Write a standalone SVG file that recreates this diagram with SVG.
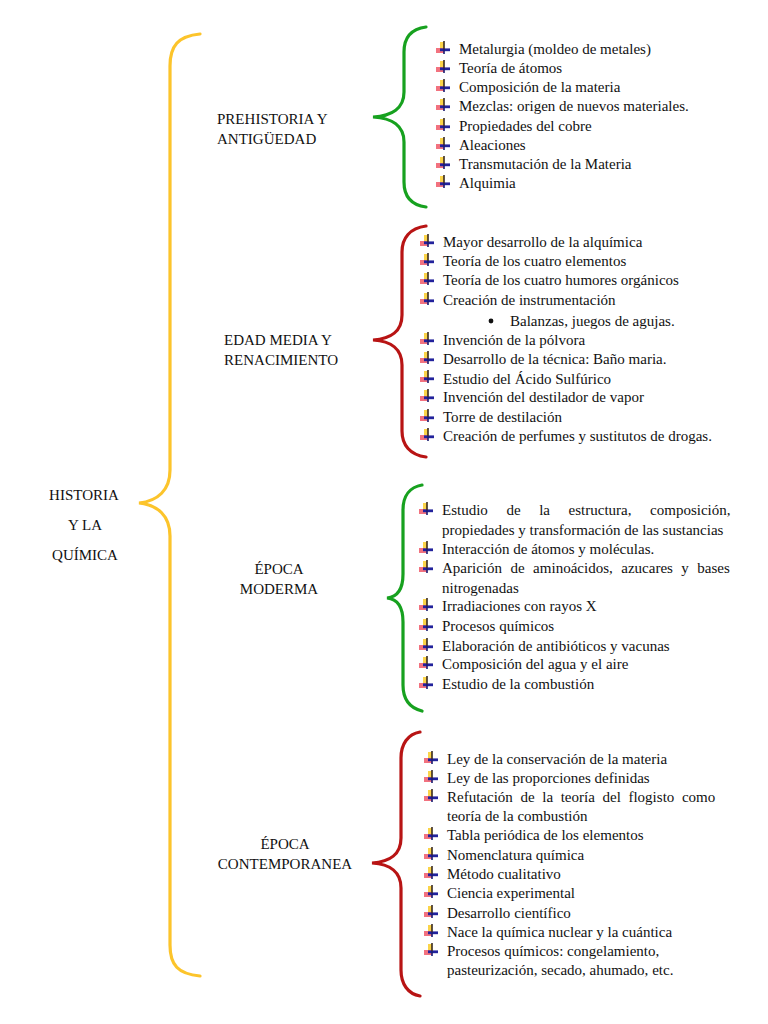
<svg xmlns="http://www.w3.org/2000/svg" width="768" height="1024" viewBox="0 0 768 1024">
<style>
text{font-family:"Liberation Serif","Times New Roman",serif;font-size:15.03px;fill:#111}
.b{fill:none;stroke-width:3.2;stroke-linecap:round}
.m{text-anchor:middle}
</style>
<defs>
<filter id="soft" x="-20%" y="-20%" width="140%" height="140%"><feGaussianBlur stdDeviation="0.4"/></filter>
<g id="bu" filter="url(#soft)">
<rect x="4" y="-11" width="4" height="8" fill="#fbd44a"/>
<rect x="0" y="-5" width="8" height="5" fill="#f2727f"/>
<rect x="4" y="-4.6" width="10" height="2.8" fill="#23239c"/>
<rect x="7.2" y="-12" width="1.6" height="8" fill="#3a2a20"/>
<rect x="7.2" y="-4" width="1.6" height="5" fill="#1c1c70"/>
</g>
</defs>
<rect width="768" height="1024" fill="#fff"/>
<g id="connectors">
<path class="b" stroke="#fcc42b" d="M200 34C178 36 170 46 170 66V470C170 490 158 501 139 503C158 505 170 516 170 536V945C170 965 178 974 200 976"/>
<path class="b" stroke="#17a11f" d="M426 27C411 29 404 38 404 52V92C404 108 392 116 373 117C392 118 404 126 404 142V182C404 196 411 205 426 207"/>
<path class="b" stroke="#b81414" d="M426 226C410 228 402 238 402 252V315C402 331 391 339 373 340C391 341 402 349 402 365V431C402 445 410 455 426 457"/>
<path class="b" stroke="#17a11f" d="M422 485C410 487 403 496 403 510V574C403 590 397 597 387 598C397 599 403 606 403 622V685C403 699 410 708 422 711"/>
<path class="b" stroke="#b81414" d="M420 732C408 734 401 744 401 758V838C401 854 390 862 372 863C390 864 401 872 401 888V970C401 984 408 994 420 996"/>
</g>
<g id="root">
<text class="m" x="84" y="500">HISTORIA</text>
<text class="m" x="85" y="530">Y LA</text>
<text class="m" x="85" y="560">QUÍMICA</text>
</g>
<g id="n1">
<text x="217" y="124">PREHISTORIA Y</text>
<text x="217" y="144">ANTIGÜEDAD</text>
</g>
<g id="n2">
<text x="224" y="345">EDAD MEDIA Y</text>
<text x="224" y="365">RENACIMIENTO</text>
</g>
<g id="n3">
<text class="m" x="279" y="574">ÉPOCA</text>
<text class="m" x="279" y="594">MODERMA</text>
</g>
<g id="n4">
<text class="m" x="285" y="849">ÉPOCA</text>
<text class="m" x="285" y="869">CONTEMPORANEA</text>
</g>
<g id="l1">
<use href="#bu" x="436" y="53"/><text x="459" y="54">Metalurgia (moldeo de metales)</text>
<use href="#bu" x="436" y="72"/><text x="459" y="73">Teoría de átomos</text>
<use href="#bu" x="436" y="91"/><text x="459" y="92">Composición de la materia</text>
<use href="#bu" x="436" y="110"/><text x="459" y="111">Mezclas: origen de nuevos materiales.</text>
<use href="#bu" x="436" y="130"/><text x="459" y="131">Propiedades del cobre</text>
<use href="#bu" x="436" y="149"/><text x="459" y="150">Aleaciones</text>
<use href="#bu" x="436" y="168"/><text x="459" y="169">Transmutación de la Materia</text>
<use href="#bu" x="436" y="187"/><text x="459" y="188">Alquimia</text>
</g>
<g id="l2">
<use href="#bu" x="420" y="246"/><text x="443" y="247">Mayor desarrollo de la alquímica</text>
<use href="#bu" x="420" y="265"/><text x="443" y="266">Teoría de los cuatro elementos</text>
<use href="#bu" x="420" y="284"/><text x="443" y="285">Teoría de los cuatro humores orgánicos</text>
<use href="#bu" x="420" y="304"/><text x="443" y="305">Creación de instrumentación</text>
<circle cx="491" cy="321" r="2.4" fill="#111"/><text x="510" y="326">Balanzas, juegos de agujas.</text>
<use href="#bu" x="420" y="344"/><text x="443" y="345">Invención de la pólvora</text>
<use href="#bu" x="420" y="363"/><text x="443" y="364">Desarrollo de la técnica: Baño maria.</text>
<use href="#bu" x="420" y="382"/><text x="443" y="384">Estudio del Ácido Sulfúrico</text>
<use href="#bu" x="420" y="401"/><text x="443" y="402">Invención del destilador de vapor</text>
<use href="#bu" x="420" y="421"/><text x="443" y="422">Torre de destilación</text>
<use href="#bu" x="420" y="440"/><text x="443" y="441">Creación de perfumes y sustitutos de drogas.</text>
</g>
<g id="l3">
<use href="#bu" x="419" y="514"/><text x="442" y="515" style="word-spacing:14.8px">Estudio de la estructura, composición,</text>
<text x="442" y="535">propiedades y transformación de las sustancias</text>
<use href="#bu" x="419" y="553"/><text x="442" y="554">Interacción de átomos y moléculas.</text>
<use href="#bu" x="419" y="572"/><text x="442" y="573" style="word-spacing:4.7px">Aparición de aminoácidos, azucares y bases</text>
<text x="442" y="593">nitrogenadas</text>
<use href="#bu" x="419" y="610"/><text x="442" y="611">Irradiaciones con rayos X</text>
<use href="#bu" x="419" y="630"/><text x="442" y="631">Procesos químicos</text>
<use href="#bu" x="419" y="650"/><text x="442" y="651">Elaboración de antibióticos y vacunas</text>
<use href="#bu" x="419" y="668"/><text x="442" y="669">Composición del agua y el aire</text>
<use href="#bu" x="419" y="688"/><text x="442" y="689">Estudio de la combustión</text>
</g>
<g id="l4">
<use href="#bu" x="424" y="763"/><text x="447" y="764">Ley de la conservación de la materia</text>
<use href="#bu" x="424" y="782"/><text x="447" y="783">Ley de las proporciones definidas</text>
<use href="#bu" x="424" y="801"/><text x="447" y="802" style="word-spacing:3.85px">Refutación de la teoría del flogisto como</text>
<text x="447" y="821">teoría de la combustión</text>
<use href="#bu" x="424" y="839"/><text x="447" y="840">Tabla periódica de los elementos</text>
<use href="#bu" x="424" y="859"/><text x="447" y="860">Nomenclatura química</text>
<use href="#bu" x="424" y="878"/><text x="447" y="879">Método cualitativo</text>
<use href="#bu" x="424" y="897"/><text x="447" y="898">Ciencia experimental</text>
<use href="#bu" x="424" y="917"/><text x="447" y="918">Desarrollo científico</text>
<use href="#bu" x="424" y="936"/><text x="447" y="937">Nace la química nuclear y la cuántica</text>
<use href="#bu" x="424" y="955"/><text x="447" y="956">Procesos químicos: congelamiento,</text>
<text x="447" y="975">pasteurización, secado, ahumado, etc.</text>
</g>
</svg>
